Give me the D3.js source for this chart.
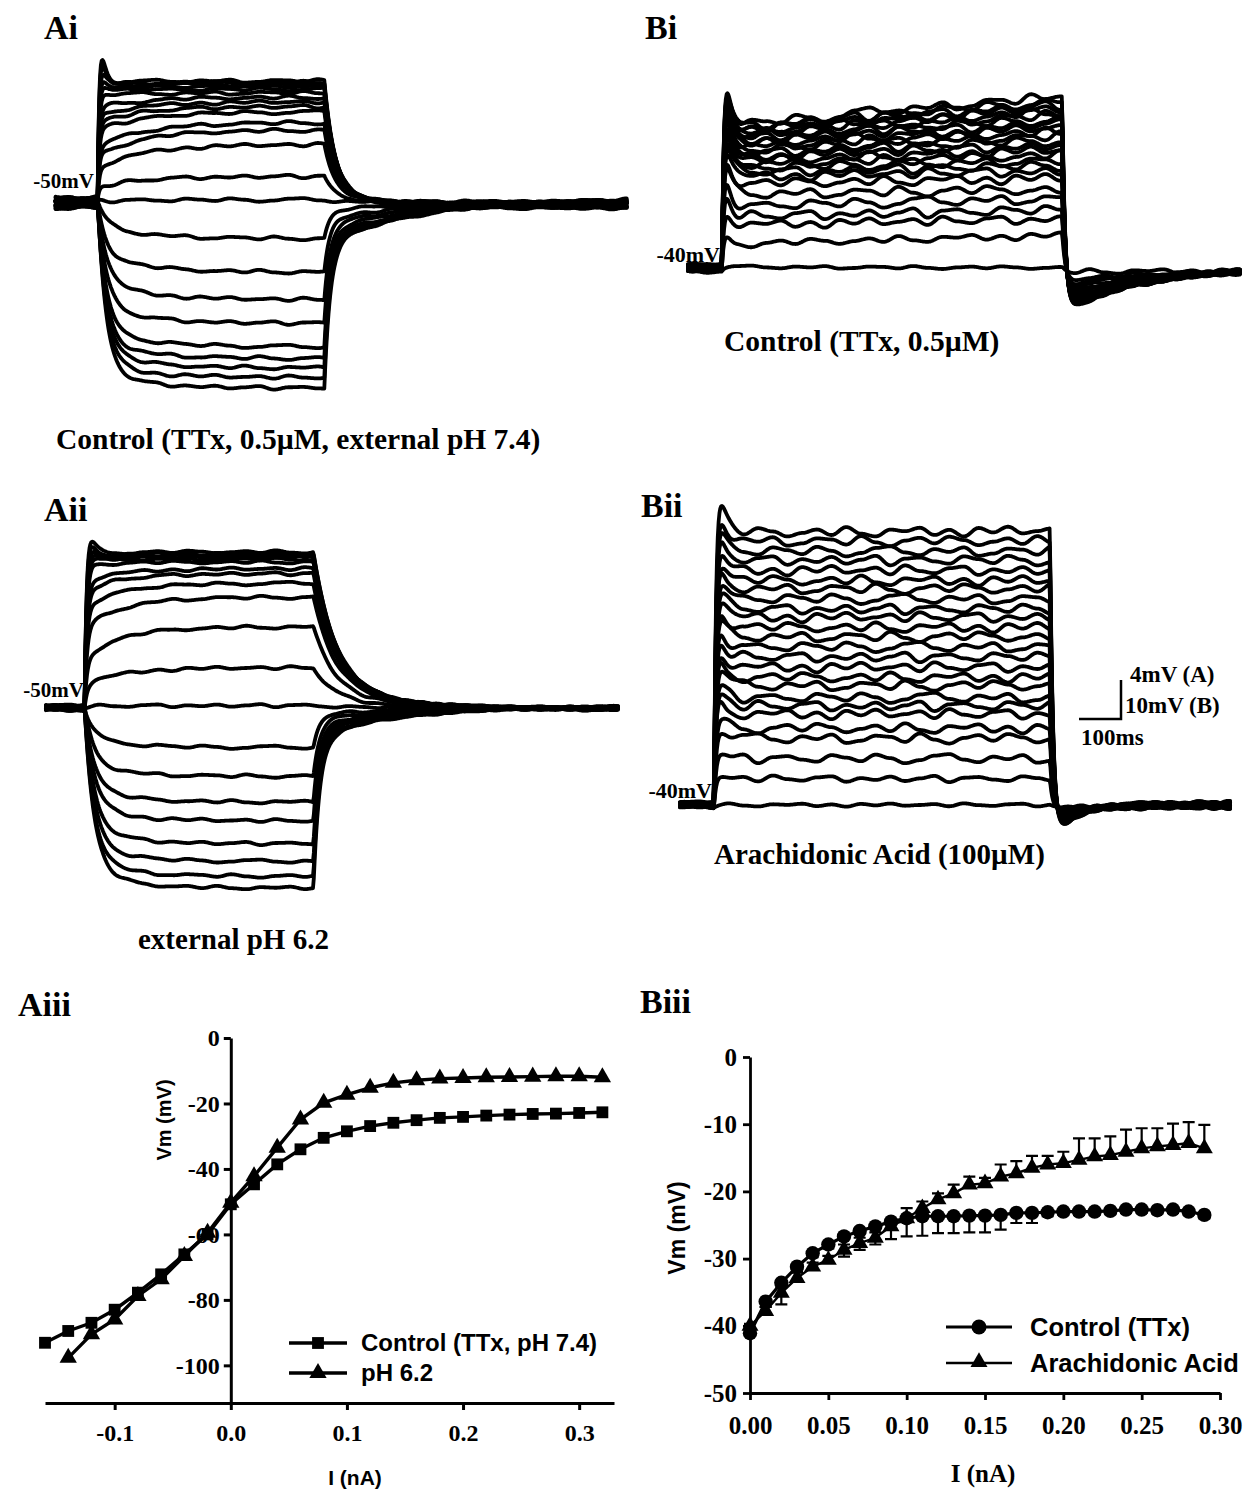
<!DOCTYPE html>
<html>
<head>
<meta charset="utf-8">
<script src="https://cdn.jsdelivr.net/npm/d3@7"></script>
<style>
  body { margin: 0; background: #fff; }
  svg { display: block; }
</style>
</head>
<body>
<svg id="fig" width="1257" height="1500"></svg>
<script>
// ===================== Data =====================

// Membrane noise texture (mV, unit amplitude), sampled on a fixed time grid
const noise = [0.2,-0.5,0.8,0.1,-0.9,-0.3,0.6,0.9,-0.2,-0.7,0.4,-0.1,0.7,-0.8,-0.4,0.5,
  0.3,-0.6,0.9,-0.2,-0.9,0.1,0.6,-0.4,0.8,0.2,-0.7,-0.1,0.5,-0.5,0.9,-0.3,
  -0.8,0.4,0.1,0.7,-0.6,0.3,-0.9,0.6,-0.2,0.8,-0.4,0.0,0.5,-0.7,0.9,-0.1,
  -0.5,0.4,0.7,-0.8,0.2,-0.3,0.6,-0.6,0.1,0.8,-0.9,0.3,0.5,-0.2,-0.6,0.7];

// Ai: control (TTx 0.5 µM, pH 7.4), holding -50 mV.
// Each response: [level after the fast charge, level at end of step], mV from holding
const aiLevels = [[12.5,12.7],[12.3,12.5],[12.1,12.3],[11.8,12.0],[11.5,11.7],[11.0,11.3],
  [9.8,10.8],[9.0,10.3],[8.2,9.8],[7.4,9.2],[5.6,8.1],[4.8,7.3],[3.5,5.8],[1.5,2.6],[0.1,0.2],
  [-2.4,-3.7],[-5.4,-7.1],[-8.0,-9.9],[-10.6,-12.3],[-13.0,-14.7],[-14.3,-15.9],[-15.4,-16.9],[-16.5,-17.9],[-17.5,-19.0]];
const aiOvershoot = [3.5,2.8,2.0,1.4,0.9,0.5];

// Aii: external pH 6.2, holding -50 mV
const aiiLevels = [[15.6,15.8],[15.4,15.6],[15.2,15.4],[15.0,15.2],[14.8,15.0],[14.4,14.7],
  [12.8,14.0],[11.8,13.5],[10.2,12.5],[8.0,11.1],[5.0,8.1],[2.3,4.0],[0.1,0.2],
  [-3.0,-4.0],[-5.6,-6.9],[-8.0,-9.5],[-9.8,-11.4],[-12.0,-13.7],[-13.7,-15.5],[-15.2,-17.0],[-16.3,-18.2]];
const aiiOvershoot = [3.0,2.4,1.8,1.2,0.8,0.4];

// Bi: control (TTx 0.5 µM), holding -40 mV
const biLevels = [[1.0,0.8],[6.5,8.8],[11.3,12.8],[13.3,15.0],[15.8,17.8],[18.8,20.0],[21.3,22.8],
  [23.0,24.5],[24.0,25.8],[25.0,27.0],[25.8,28.3],[26.6,29.5],[27.4,30.6],[28.2,31.8],[29.0,32.8],
  [29.8,33.8],[30.4,34.8],[31.0,35.8],[31.6,36.8],[32.2,37.8],[32.6,38.6],[33.0,39.4],[33.5,40.2],
  [34.0,41.0],[34.5,42.0]];
const biOvershoot = [0,2,4,6,7,8,8,9,9,10,10,10,10,11,11,11,11,11,11,11,11,12,12,12,13];

// Bii: arachidonic acid (100 µM), holding -40 mV
const biiLevels = [[0.5,0.5],[7,7],[12,12],[17,17],[19.5,19.5],[23,23],[25,25],[27,27],[30,30],
  [32,32],[34.5,34.5],[37,37],[39.5,39.5],[42,42],[44.3,44.3],[46.8,46.8],[48.8,48.8],[51.3,51.3],
  [53.8,53.8],[55.8,55.8],[58.3,58.3],[60.8,60.8],[63,63],[65.5,65.5],[67.5,68]];
const biiOvershoot = [0,1,2,3,3,4,4,4,5,5,5,5,5,5,6,6,6,6,6,6,6,7,7,8,10];

// Aiii: steady-state V-I relation
const aiiiCtrlI = [-0.16,-0.14,-0.12,-0.10,-0.08,-0.06,-0.04,-0.02,0.00,0.02,0.04,0.06,0.08,0.10,
  0.12,0.14,0.16,0.18,0.20,0.22,0.24,0.26,0.28,0.30,0.32];
const aiiiCtrlV = [-93.1,-89.5,-87.0,-83.0,-77.8,-72.2,-66.1,-60.0,-50.8,-44.7,-38.6,-34.0,-30.5,-28.5,
  -26.9,-25.9,-25.1,-24.4,-24.1,-23.7,-23.4,-23.2,-23.1,-22.9,-22.7];
const aiiiPhI = [-0.14,-0.12,-0.10,-0.08,-0.06,-0.04,-0.02,0.00,0.02,0.04,0.06,0.08,0.10,
  0.12,0.14,0.16,0.18,0.20,0.22,0.24,0.26,0.28,0.30,0.32];
const aiiiPhV = [-97.7,-90.5,-86.0,-78.8,-73.7,-66.6,-59.5,-50.3,-42.2,-33.5,-24.9,-19.8,-17.3,
  -15.2,-13.7,-12.9,-12.4,-12.2,-12.0,-11.9,-11.8,-11.7,-11.7,-12.0];
const aiiiXTicks = [-0.1,0.0,0.1,0.2,0.3];
const aiiiYTicks = [0,-20,-40,-60,-80,-100];

// Biii: mean V-I relation with SEM
const biiiI = [0.00,0.01,0.02,0.03,0.04,0.05,0.06,0.07,0.08,0.09,0.10,0.11,0.12,0.13,0.14,
  0.15,0.16,0.17,0.18,0.19,0.20,0.21,0.22,0.23,0.24,0.25,0.26,0.27,0.28,0.29];
const biiiCtrlV = [-41.1,-36.4,-33.6,-31.2,-29.2,-27.9,-26.7,-25.9,-25.2,-24.5,-24.0,-23.7,-23.7,-23.7,-23.6,
  -23.6,-23.5,-23.2,-23.2,-23.1,-23.0,-23.0,-23.0,-22.9,-22.7,-22.7,-22.8,-22.7,-23.0,-23.5];
const biiiCtrlErr = [0.3,0.8,3.2,0.8,0.6,0.6,3.0,2.8,2.7,2.6,2.7,2.9,2.5,2.5,2.5,
  2.5,2.2,1.5,1.5,0.6,0.5,0.5,0.5,0.5,0.5,0.5,0.5,0.5,0.5,0.5];
const biiiAaV = [-40.0,-37.8,-35.1,-32.9,-31.2,-30.2,-28.7,-27.7,-26.9,-25.2,-24.0,-22.5,-21.2,-20.3,-19.0,
  -18.8,-17.8,-17.3,-16.5,-16.0,-15.8,-15.3,-14.8,-14.6,-14.1,-13.6,-13.3,-13.1,-12.8,-13.6];
const biiiAaErr = [0.3,0.6,0.8,0.8,0.6,0.6,0.8,0.8,0.8,0.9,1.5,1.0,0.9,1.3,1.2,
  0.8,1.8,1.8,1.8,1.3,1.7,3.2,2.7,2.8,3.3,3.0,2.7,3.2,3.1,3.5];
const biiiXTicks = [0.00,0.05,0.10,0.15,0.20,0.25,0.30];
const biiiYTicks = [0,-10,-20,-30,-40,-50];

// ===================== Drawing =====================
const svg = d3.select("#fig");
const SERIF = "'Liberation Serif','Times New Roman',serif";
const SANS = "'Liberation Sans',Arial,sans-serif";

function noiseAt(t, step, phase) {
  const u = t / step + phase;
  const k = Math.floor(u), f = u - k, N = noise.length;
  const a = noise[((k % N) + N) % N], b = noise[(((k + 1) % N) + N) % N];
  const s = (1 - Math.cos(Math.PI * f)) / 2;
  return a + (b - a) * s;
}

// Voltage responses to a family of current steps
function drawTraces(p) {
  const x = d3.scaleLinear().domain([p.t0, p.t1])
    .range([p.xOn + p.t0 * p.pxPerMs, p.xOn + p.t1 * p.pxPerMs]);
  const y = d3.scaleLinear().domain([0, 1]).range([p.baseY, p.baseY - p.pxPerMV]);
  const n = p.levels.length;
  const times = d3.range(p.t0, p.t1 + 0.001, 2);
  const line = d3.line().x(d => x(d[0])).y(d => y(d[1]));
  const g = svg.append("g").attr("fill", "none").attr("stroke", "#000")
    .attr("stroke-width", p.sw).attr("stroke-linejoin", "round").attr("stroke-linecap", "round");
  p.levels.forEach((lv, i) => {
    const [Lf, Le] = lv;
    const os = p.overshoot[i] || 0;
    const pos = Le >= 0;
    const tauF = pos ? p.tauFpos : p.tauFneg;
    const off = pos ? p.offPos : p.offNeg;
    const norm = 1 - Math.exp(-p.T / p.tauS);
    const hold = p.spread * (i / (n - 1) - 0.5);
    const amp = p.wig * Math.min(1, p.wigBase + Math.abs(Le) / p.wigRef);
    const phase = i * 13 + p.phase;
    const stepV = t => Lf * (1 - Math.exp(-t / tauF))
      + (Le - Lf) * (1 - Math.exp(-t / p.tauS)) / norm
      + os * (t / p.tp) * Math.exp(1 - t / p.tp);
    const vT = stepV(p.T);
    const pts = times.map(t => {
      let v, a;
      if (t <= 0) { v = 0; a = p.wig * p.nPre; }
      else if (t <= p.T) { v = stepV(t); a = amp; }
      else {
        const s = t - p.T;
        v = vT * (off[0] * Math.exp(-s / off[1]) + (1 - off[0]) * Math.exp(-s / off[2]))
          - p.k * vT * (Math.exp(-s / p.tauR) - Math.exp(-s / off[1]));
        a = p.wig * p.nPost;
      }
      return [t, v + hold + a * noiseAt(t, p.nStep, phase)];
    });
    g.append("path").attr("d", line(pts));
  });
}

drawTraces({ levels: aiLevels, overshoot: aiOvershoot, xOn: 97.5, t0: -100, t1: 1260, pxPerMs: 0.42,
  baseY: 203, pxPerMV: 10, T: 540, tauFpos: 4, tauFneg: 20, tauS: 110, tp: 7,
  offPos: [0.85, 25, 90], offNeg: [0.75, 14, 220], k: 0, tauR: 100,
  spread: 1.0, wig: 0.2, wigBase: 1, wigRef: 1, nPre: 1, nPost: 0.8, nStep: 35, phase: 3, sw: 3.8 });

drawTraces({ levels: aiiLevels, overshoot: aiiOvershoot, xOn: 84.5, t0: -92, t1: 1270, pxPerMs: 0.42,
  baseY: 708, pxPerMV: 10, T: 545, tauFpos: 6, tauFneg: 22, tauS: 90, tp: 8,
  offPos: [0.8, 50, 150], offNeg: [0.82, 15, 200], k: 0, tauR: 100,
  spread: 0.4, wig: 0.18, wigBase: 1, wigRef: 1, nPre: 1, nPost: 0.8, nStep: 35, phase: 17, sw: 3.8 });

drawTraces({ levels: biLevels, overshoot: biOvershoot, xOn: 722, t0: -81, t1: 1234, pxPerMs: 0.42,
  baseY: 268, pxPerMV: 4, T: 810, tauFpos: 5, tauFneg: 5, tauS: 2000, tp: 8,
  offPos: [1, 7, 7], offNeg: [1, 7, 7], k: 0.29, tauR: 200,
  spread: 1.5, wig: 1.4, wigBase: 0.25, wigRef: 20, nPre: 0.35, nPost: 0.5, nStep: 35, phase: 5, sw: 3.8 });

drawTraces({ levels: biiLevels, overshoot: biiOvershoot, xOn: 714, t0: -81, t1: 1229, pxPerMs: 0.42,
  baseY: 805, pxPerMV: 4, T: 800, tauFpos: 5, tauFneg: 5, tauS: 2000, tp: 10,
  offPos: [1, 7, 7], offNeg: [1, 7, 7], k: 0.14, tauR: 60,
  spread: 1.0, wig: 1.4, wigBase: 0.3, wigRef: 20, nPre: 0.35, nPost: 0.5, nStep: 35, phase: 29, sw: 3.8 });

// ---- Text helpers ----
function label(x, y, txt, size, opts = {}) {
  return svg.append("text").attr("x", x).attr("y", y).text(txt)
    .attr("font-family", opts.family || SERIF).attr("font-weight", "bold")
    .attr("font-size", size).attr("text-anchor", opts.anchor || "start").attr("fill", "#000");
}

// Panel letters
label(44, 39, "Ai", 34);
label(645, 39, "Bi", 34);
label(44, 521, "Aii", 34);
label(641, 517, "Bii", 34);
label(18, 1016, "Aiii", 34);
label(640, 1013, "Biii", 34);

// Holding potentials
label(94, 188, "-50mV", 21, { anchor: "end" });
label(84, 697, "-50mV", 21, { anchor: "end" });
label(720, 262, "-40mV", 22, { anchor: "end" });
label(712, 798, "-40mV", 22, { anchor: "end" });

// Condition captions
label(56, 449, "Control (TTx, 0.5µM, external pH 7.4)", 29.5);
label(138, 949, "external pH 6.2", 29);
label(724, 351, "Control (TTx, 0.5µM)", 29.5);
label(714, 864, "Arachidonic Acid (100µM)", 29);

// Scale bar
svg.append("path").attr("d", "M1079,719H1121V680").attr("fill", "none")
  .attr("stroke", "#000").attr("stroke-width", 2.5);
label(1130, 682, "4mV (A)", 23);
label(1125, 713, "10mV (B)", 23);
label(1081, 745, "100ms", 23);

// ---- Aiii ----
{
  const x = d3.scaleLinear().domain([-0.16, 0.33]).range([45, 614]);
  const y = d3.scaleLinear().domain([-111.5, 0]).range([1403, 1038]);
  const ya = svg.append("g").attr("transform", `translate(${x(0)},0)`)
    .call(d3.axisLeft(y).tickValues(aiiiYTicks).tickSize(7).tickSizeOuter(0).tickPadding(4)
      .tickFormat(d => d === 0 ? "0" : "-" + Math.abs(d)));
  const xa = svg.append("g").attr("transform", `translate(0,${y(-111.5)})`)
    .call(d3.axisBottom(x).tickValues(aiiiXTicks).tickSize(7).tickSizeOuter(0).tickPadding(14)
      .tickFormat(d => d.toFixed(1)));
  [ya, xa].forEach(a => {
    a.selectAll("path,line").attr("stroke", "#000").attr("stroke-width", 3);
    a.selectAll("text").attr("font-family", SERIF).attr("font-weight", "bold")
      .attr("font-size", 24).attr("fill", "#000");
  });
  const ln = d3.line().x(d => x(d[0])).y(d => y(d[1]));
  const ctrl = aiiiCtrlI.map((v, i) => [v, aiiiCtrlV[i]]);
  const ph = aiiiPhI.map((v, i) => [v, aiiiPhV[i]]);
  svg.append("path").attr("d", ln(ctrl)).attr("fill", "none").attr("stroke", "#000").attr("stroke-width", 3.4);
  svg.append("path").attr("d", ln(ph)).attr("fill", "none").attr("stroke", "#000").attr("stroke-width", 3.4);
  const sq = d3.symbol().type(d3.symbolSquare).size(140);
  const tri = d3.symbol().type(d3.symbolTriangle).size(130);
  svg.append("g").selectAll("path").data(ctrl).join("path")
    .attr("transform", d => `translate(${x(d[0])},${y(d[1])})`).attr("d", sq);
  svg.append("g").selectAll("path").data(ph).join("path")
    .attr("transform", d => `translate(${x(d[0])},${y(d[1])})`).attr("d", tri);
  // legend
  svg.append("line").attr("x1", 289).attr("x2", 347).attr("y1", 1343).attr("y2", 1343).attr("stroke", "#000").attr("stroke-width", 3.4);
  svg.append("path").attr("transform", "translate(318,1343)").attr("d", sq);
  svg.append("line").attr("x1", 289).attr("x2", 347).attr("y1", 1373).attr("y2", 1373).attr("stroke", "#000").attr("stroke-width", 3.4);
  svg.append("path").attr("transform", "translate(318,1373)").attr("d", tri);
  label(361, 1351, "Control (TTx, pH 7.4)", 24, { family: SANS });
  label(361, 1381, "pH 6.2", 24, { family: SANS });
  // axis titles
  svg.append("text").attr("transform", "translate(171,1120) rotate(-90)").attr("text-anchor", "middle")
    .attr("font-family", SANS).attr("font-weight", "bold").attr("font-size", 20).text("Vm (mV)");
  label(355, 1485, "I (nA)", 21, { family: SANS, anchor: "middle" });
}

// ---- Biii ----
{
  const x = d3.scaleLinear().domain([0, 0.30]).range([750, 1220]);
  const y = d3.scaleLinear().domain([-50, 0]).range([1393, 1057]);
  const ya = svg.append("g").attr("transform", `translate(${x(0)},0)`)
    .call(d3.axisLeft(y).tickValues(biiiYTicks).tickSize(7).tickSizeOuter(0).tickPadding(6)
      .tickFormat(d => d === 0 ? "0" : "-" + Math.abs(d)));
  const xa = svg.append("g").attr("transform", `translate(0,${y(-50)})`)
    .call(d3.axisBottom(x).tickValues(biiiXTicks).tickSize(7).tickSizeOuter(0).tickPadding(16)
      .tickFormat(d => d.toFixed(2)));
  [ya, xa].forEach(a => {
    a.selectAll("path,line").attr("stroke", "#000").attr("stroke-width", 2.8);
    a.selectAll("text").attr("font-family", SERIF).attr("font-weight", "bold")
      .attr("font-size", 25).attr("fill", "#000");
  });
  const ln = d3.line().x(d => x(d[0])).y(d => y(d[1]));
  const aa = biiiI.map((v, i) => [v, biiiAaV[i], biiiAaErr[i]]);
  const ctrl = biiiI.map((v, i) => [v, biiiCtrlV[i], biiiCtrlErr[i]]);
  const tri = d3.symbol().type(d3.symbolTriangle).size(125);
  // arachidonic acid bars point up, control bars point down
  const eb = svg.append("g").attr("stroke", "#000").attr("stroke-width", 2.2).attr("fill", "none");
  aa.forEach(d => {
    const xx = x(d[0]), y0 = y(d[1]), y1 = y(d[1] + d[2]);
    eb.append("path").attr("d", `M${xx},${y0}V${y1}M${xx - 6},${y1}H${xx + 6}`);
  });
  ctrl.forEach(d => {
    const xx = x(d[0]), y0 = y(d[1]), y1 = y(d[1] - d[2]);
    eb.append("path").attr("d", `M${xx},${y0}V${y1}M${xx - 6},${y1}H${xx + 6}`);
  });
  svg.append("path").attr("d", ln(aa)).attr("fill", "none").attr("stroke", "#000").attr("stroke-width", 2.4);
  svg.append("g").selectAll("path").data(aa).join("path")
    .attr("transform", d => `translate(${x(d[0])},${y(d[1])})`).attr("d", tri);
  svg.append("path").attr("d", ln(ctrl)).attr("fill", "none").attr("stroke", "#000").attr("stroke-width", 3.2);
  svg.append("g").selectAll("circle").data(ctrl).join("circle")
    .attr("cx", d => x(d[0])).attr("cy", d => y(d[1])).attr("r", 7.2).attr("fill", "#000");
  // legend
  svg.append("line").attr("x1", 946).attr("x2", 1012).attr("y1", 1327).attr("y2", 1327).attr("stroke", "#000").attr("stroke-width", 3.2);
  svg.append("circle").attr("cx", 979).attr("cy", 1327).attr("r", 7.5).attr("fill", "#000");
  svg.append("line").attr("x1", 946).attr("x2", 1012).attr("y1", 1363).attr("y2", 1363).attr("stroke", "#000").attr("stroke-width", 2.4);
  svg.append("path").attr("transform", "translate(979,1362)").attr("d", tri);
  label(1030, 1336, "Control (TTx)", 25.5, { family: SANS });
  label(1030, 1372, "Arachidonic Acid", 25.5, { family: SANS });
  // axis titles
  svg.append("text").attr("transform", "translate(685,1228) rotate(-90)").attr("text-anchor", "middle")
    .attr("font-family", SANS).attr("font-weight", "bold").attr("font-size", 23).text("Vm (mV)");
  label(983, 1482, "I (nA)", 25, { anchor: "middle" });
}
</script>
</body>
</html>
